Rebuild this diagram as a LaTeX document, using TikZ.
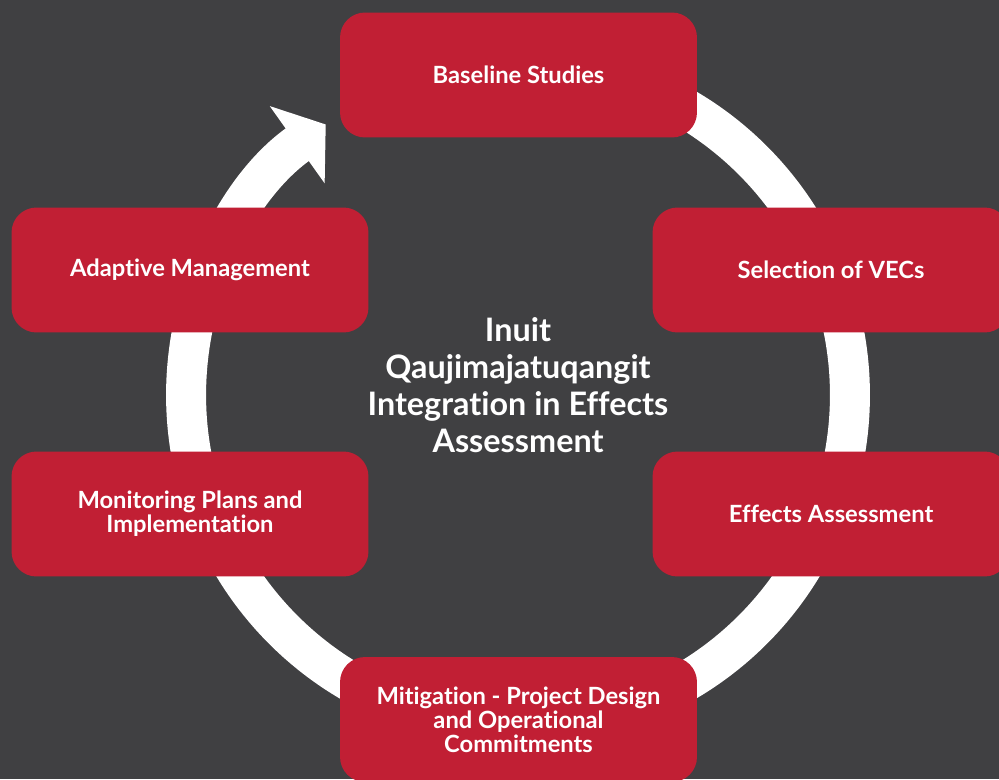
\documentclass[tikz,border=0pt]{standalone}
\usepackage{fontspec}
\setmainfont{Lato}[Ligatures=NoCommon]
\usepackage{xcolor}
\usetikzlibrary{arrows.meta,positioning}

\definecolor{slate}{HTML}{404042}
\definecolor{brick}{HTML}{C11F34}

\begin{document}
\begin{tikzpicture}[x=0.02cm, y=0.02cm,
    block/.style={rectangle, fill=brick, text=white, font=\bfseries\fontsize{13.5}{13.6}\selectfont,
        align=center, minimum width=7.14cm, minimum height=2.5cm, rounded corners=0.5cm, inner sep=0pt}]

    % Background
    \fill[slate] (0,0) rectangle (999,779);
    \useasboundingbox (0,0) rectangle (999,779);

    % Cycle ring
    \coordinate (hub) at (518,384);
    \draw[white, line width=0.8cm, -{Triangle[length=0.7cm, width=1.86cm]}]
        (hub) ++(90:6.64cm) arc[start angle=90, end angle=-234.6, radius=6.64cm];

    % Steps
    \node[block] (baseline) at (518.5,704) {Baseline Studies};
    \node[block] (vecs) at (831,509) {Selection of VECs};
    \node[block] (effects) at (831,265) {Effects Assessment};
    \node[block] (mitigation) at (518.5,59.5) {Mitigation - Project Design\\and Operational\\Commitments};
    \node[block] (monitoring) at (190,265) {Monitoring Plans and\\Implementation};
    \node[block] (adaptive) at (190,509) {Adaptive Management};

    % Centre title
    \node[text=white, align=center, font=\bfseries\fontsize{18.4}{21}\selectfont] (title) at (hub) [yshift=0.2cm]
        {Inuit\\Qaujimajatuqangit\\Integration in Effects\\Assessment};

\end{tikzpicture}
\end{document}
